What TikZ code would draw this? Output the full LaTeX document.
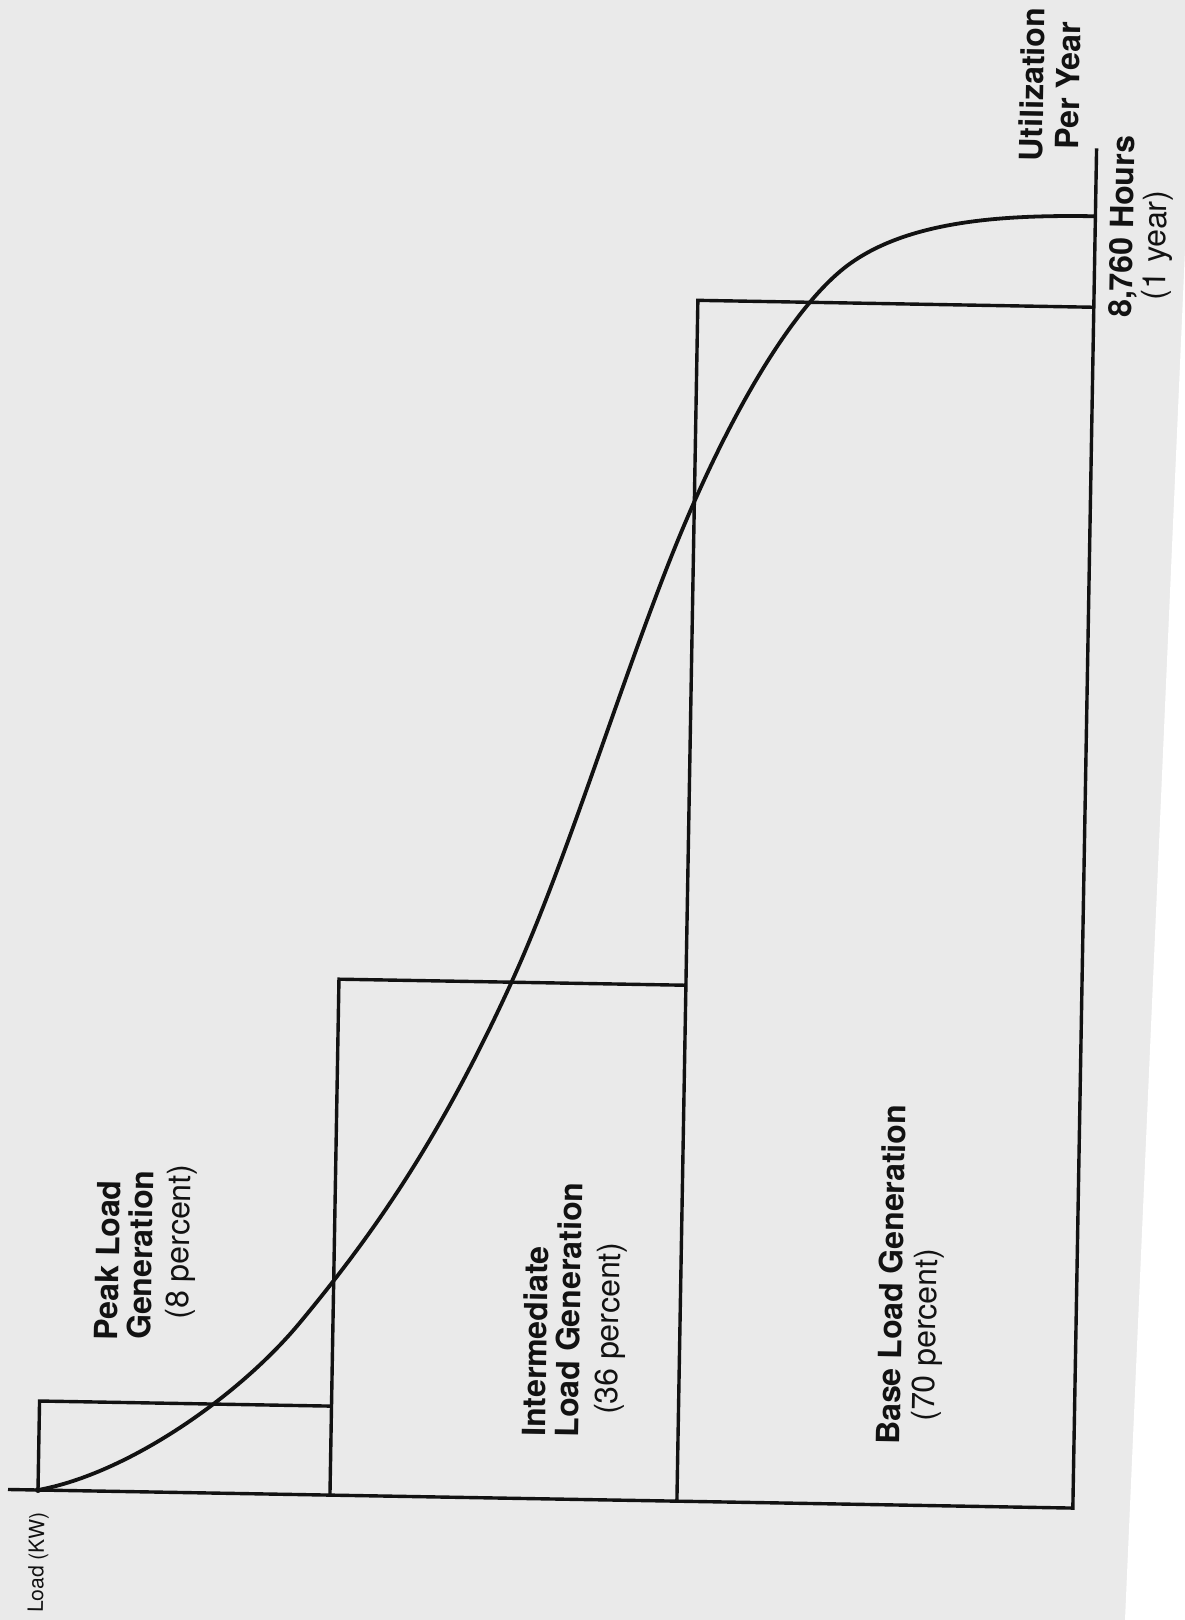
\documentclass[tikz,border=0pt]{standalone}
\usepackage{fontspec}
\setmainfont{TeX Gyre Heros}
\definecolor{paper}{RGB}{234,234,234}
\definecolor{ink}{RGB}{18,18,18}
\begin{document}
\begin{tikzpicture}[x=1pt,y=1pt,
  rule/.style={line width=3.4pt, draw=ink, line join=miter},
  curve/.style={line width=3.8pt, draw=ink},
  lblb/.style={rotate=89, anchor=base west, inner sep=0pt, text=ink,
     font=\fontsize{32}{34}\selectfont\bfseries},
  lblr/.style={rotate=89, anchor=base west, inner sep=0pt, text=ink,
     font=\fontsize{32}{34}\selectfont},
  lbls/.style={rotate=89, anchor=base west, inner sep=0pt, text=ink,
     font=\fontsize{21}{24}\selectfont}]
\fill[paper] (0,0) rectangle (1185,-1620);
\fill[white] (1185,-250) -- (1185,-1620) -- (1125,-1620) -- cycle;
\useasboundingbox (0,0) rectangle (1185,-1620);
\begin{scope}[shift={(38,-1490)}, rotate=-1]
  % frame points
  \coordinate (axL) at (-30,0);
  \coordinate (o) at (0,0);
  \coordinate (pTL) at (0,89);
  \coordinate (pTR) at (292,89);
  \coordinate (pB) at (292,0);
  \coordinate (iTL) at (292,516);
  \coordinate (iTR) at (639,516);
  \coordinate (bB) at (639,0);
  \coordinate (bTL) at (639,1201);
  \coordinate (bTR) at (1035,1201);
  \coordinate (rB) at (1035,0);
  \coordinate (rT) at (1035,1360);
  % curve points
  \coordinate (c1) at (259,172);
  \coordinate (c2) at (465,517);
  \coordinate (c3) at (613,934);
  \coordinate (c4) at (790,1240);
  \coordinate (cE) at (1035,1292);
  % axis and right edge
  \draw[rule] (axL) -- (rB) -- (rT);
  % peak block
  \draw[rule] (o) -- (pTL) -- (pTR);
  % intermediate block
  \draw[rule] (pB) -- (iTL) -- (iTR);
  % base block
  \draw[rule] (bB) -- (bTL) -- (bTR);
  % load duration curve
  \draw[curve] (o) .. controls (90,18) and (200,98) .. (c1)
    .. controls (329,259.5) and (395,356) .. (c2)
    .. controls (515,632) and (563,799) .. (c3)
    .. controls (663,1069) and (730,1195) .. (c4)
    .. controls (850,1285) and (945,1292) .. (cE);
  \fill[ink] (o) circle (3pt);
  % labels
  \node[lblb] (peak1) at (77,151) {Peak Load};
  \node[lblb] (peak2) at (110,152) {Generation};
  \node[lblr] (peak3) at (147,173) {(8 percent)};
  \node[lblb] (int1) at (506,62) {Intermediate};
  \node[lblb] (int2) at (539,62) {Load Generation};
  \node[lblr] (int3) at (578,85) {(36 percent)};
  \node[lblb] (base1) at (861,60) {Base Load Generation};
  \node[lblr] (base2) at (895,84) {(70 percent)};
  \node[lblb] (util1) at (981,1346) {Utilization};
  \node[lblb] (util2) at (1017,1358) {Per Year};
  \node[lblb] (hrs1) at (1073,1191) {8,760 Hours};
  \node[lblr] (hrs2) at (1106,1209) {(1 year)};
  \node[lbls] (load) at (7,-123) {Load (KW)};
\end{scope}
\end{tikzpicture}
\end{document}
